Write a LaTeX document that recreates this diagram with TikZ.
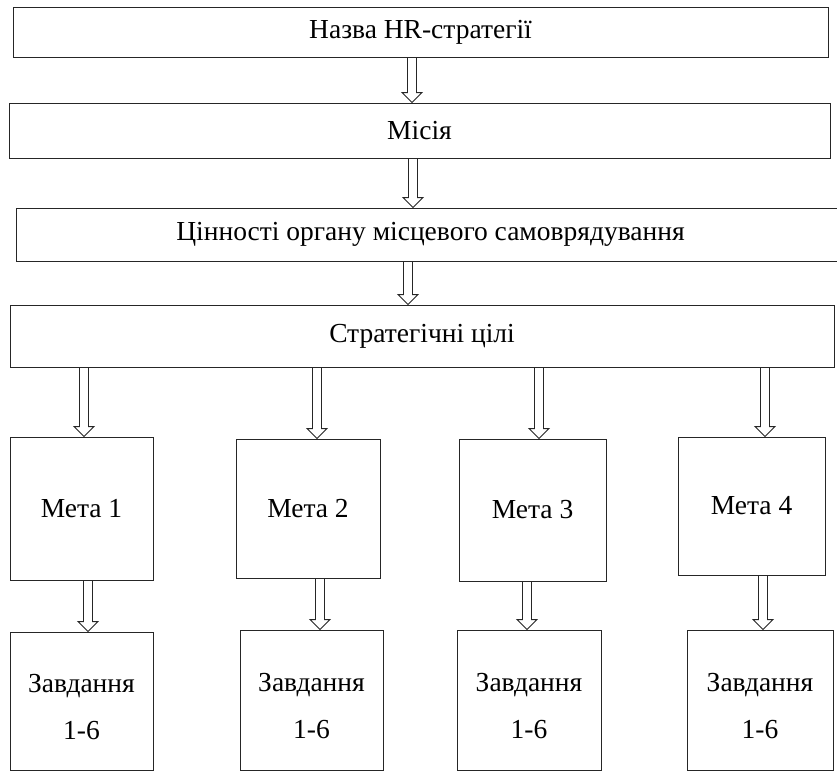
\documentclass[tikz,border=0pt]{standalone}
\usepackage{fontspec}
\setmainfont{Liberation Serif}
\usetikzlibrary{calc}

% hollow block arrow pointing down: x, from node, to node
\newcommand{\hollowdown}[3]{%
  \draw[arrowline] let \p1 = (#2.south), \p2 = (#3.north) in
    (#1pt-4.5pt,\y1) -- (#1pt-4.5pt,\y2+10pt) -- (#1pt-10pt,\y2+10pt)
    -- (#1pt,\y2) -- (#1pt+10pt,\y2+10pt) -- (#1pt+4.5pt,\y2+10pt)
    -- (#1pt+4.5pt,\y1);
}

\begin{document}
\begin{tikzpicture}[x=1pt, y=-1pt,
    main/.style = {draw=black!85, line width=0.9pt, rectangle, inner sep=0pt,
                   font=\fontsize{27.5}{47}\selectfont, align=center},
    arrowline/.style = {draw=black!85, line width=0.9pt, line join=miter}]
  \useasboundingbox (0,0) rectangle (837,771);

  \node[main, minimum width=815pt, minimum height=50pt] (1) at (420.5,32) {Назва HR-стратегії};
  \node[main, minimum width=821pt, minimum height=55pt] (2) at (419.5,130.5) {Місія};
  \node[main, minimum width=829pt, minimum height=53pt] (3) at (430.5,234.5) {Цінності органу місцевого самоврядування};
  \node[main, minimum width=824pt, minimum height=62pt] (4) at (422,336) {Стратегічні цілі};

  \node[main, minimum width=143pt, minimum height=143pt] (5) at (81.5,508.5) {Мета 1};
  \node[main, minimum width=144pt, minimum height=139pt] (6) at (308,508.5) {Мета 2};
  \node[main, minimum width=147pt, minimum height=142pt] (7) at (532.5,510) {Мета 3};
  \node[main, minimum width=147pt, minimum height=138pt] (8) at (751.5,506) {Мета 4};

  \node[main, minimum width=143pt, minimum height=138pt] (9) at (81.5,701) {\rule{0pt}{30pt}Завдання\\1-6};
  \node[main, minimum width=143pt, minimum height=140pt] (10) at (311.5,700) {\rule{0pt}{30pt}Завдання\\1-6};
  \node[main, minimum width=144pt, minimum height=140pt] (11) at (529,700) {\rule{0pt}{30pt}Завдання\\1-6};
  \node[main, minimum width=146pt, minimum height=140pt] (12) at (760,700) {\rule{0pt}{30pt}Завдання\\1-6};

  \hollowdown{412}{1}{2}
  \hollowdown{413}{2}{3}
  \hollowdown{408}{3}{4}

  \hollowdown{84}{4}{5}
  \hollowdown{317}{4}{6}
  \hollowdown{539}{4}{7}
  \hollowdown{765}{4}{8}

  \hollowdown{88}{5}{9}
  \hollowdown{320}{6}{10}
  \hollowdown{527}{7}{11}
  \hollowdown{763}{8}{12}
\end{tikzpicture}
\end{document}
